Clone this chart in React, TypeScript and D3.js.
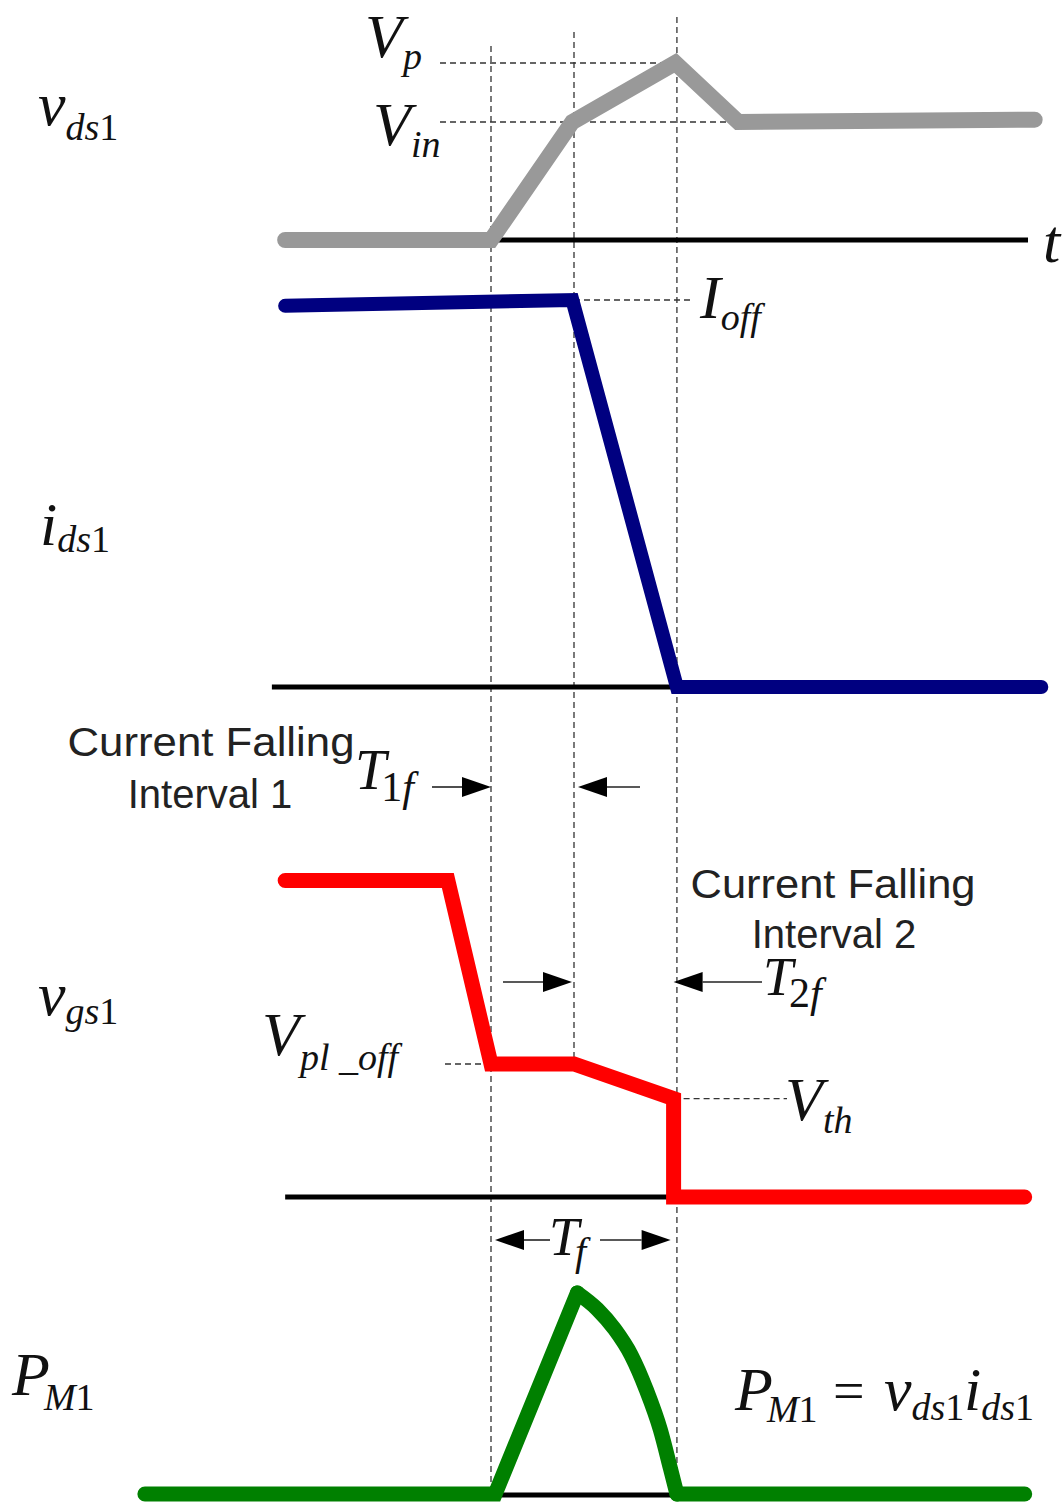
import React from 'react';
import * as d3 from 'd3';

// Time is measured in units of the first current-falling interval (T1f = 1).
// Key switching instants: start of T1f, end of T1f, end of T2f.
const instants = [0, 1.0, 2.24];

// Drain-source voltage v_ds1 (normalised to V_in)
const vdsTime = [-2.48, 0, 0.98, 2.22, 2.98, 6.55];
const vdsValue = [0, 0, 1.0, 1.5, 1.0, 1.02];

// Drain current i_ds1 (normalised to I_off)
const idsTime = [-2.48, 0.98, 2.24, 6.63];
const idsValue = [0.985, 1.0, 0, 0];

// Gate-source voltage v_gs1 (normalised to V_pl_off)
const vgsTime = [-2.48, -0.52, 0, 1.0, 2.2, 2.2, 6.43];
const vgsValue = [2.38, 2.38, 1.0, 1.0, 0.74, 0, 0];

// Switching loss P_M1 = v_ds1 * i_ds1 (normalised to its peak)
const pRiseTime = [-4.17, 0.05, 1.04];
const pRiseValue = [0, 0, 1.0];
const pFallTime = [1.04, 1.28, 1.49, 1.69, 1.87, 2.04, 2.16, 2.24];
const pFallValue = [1.0, 0.92, 0.82, 0.69, 0.52, 0.32, 0.13, 0];
const pTailTime = [2.24, 6.43];
const pTailValue = [0, 0];

const SERIF = '"Liberation Serif", "Times New Roman", serif';
const SANS = '"Liberation Sans", Arial, sans-serif';

const x = d3.scaleLinear().domain([0, 1]).range([491, 574]);
const yVds = d3.scaleLinear().domain([0, 1]).range([240, 122]);
const yIds = d3.scaleLinear().domain([0, 1]).range([687, 300]);
const yVgs = d3.scaleLinear().domain([0, 1]).range([1197, 1064]);
const yP = d3.scaleLinear().domain([0, 1]).range([1494, 1293]);

type Pt = [number, number];
const zip = (t: number[], v: number[]): Pt[] => t.map((ti, i) => [ti, v[i]]);

const linePath = (pts: Pt[], y: d3.ScaleLinear<number, number>, curve: d3.CurveFactory = d3.curveLinear) =>
  d3
    .line<Pt>()
    .x((d) => x(d[0]))
    .y((d) => y(d[1]))
    .curve(curve)(pts) || '';

type Piece = [string, boolean];

function Sym({
  px,
  py,
  base,
  sub,
  size = 62,
  subSize = 38,
  subDx = 0,
  subDy = 13,
}: {
  px: number;
  py: number;
  base: string;
  sub: Piece[];
  size?: number;
  subSize?: number;
  subDx?: number;
  subDy?: number;
}) {
  return (
    <text x={px} y={py} fontFamily={SERIF} fill="#111">
      <tspan fontSize={size} fontStyle="italic">
        {base}
      </tspan>
      {sub.map(([s, it], i) => (
        <tspan
          key={i}
          fontSize={subSize}
          fontStyle={it ? 'italic' : 'normal'}
          dx={i === 0 ? subDx : 0}
          dy={i === 0 ? subDy : 0}
        >
          {s}
        </tspan>
      ))}
    </text>
  );
}

function Arrow({ tip, from, y }: { tip: number; from: number; y: number }) {
  const dir = tip > from ? 1 : -1;
  const len = 29;
  const half = 10;
  return (
    <g>
      <line x1={from} y1={y} x2={tip - dir * len} y2={y} stroke="#222" strokeWidth={1.6} />
      <polygon
        points={`${tip},${y} ${tip - dir * len},${y - half} ${tip - dir * len},${y + half}`}
        fill="#000"
      />
    </g>
  );
}

const Dash = ({ x1, y1, x2, y2 }: { x1: number; y1: number; x2: number; y2: number }) => (
  <line x1={x1} y1={y1} x2={x2} y2={y2} stroke="#333" strokeWidth={1.3} strokeDasharray="6 4" />
);

export default function App() {
  const dashTops = [46, 32, 17];
  const dashBottoms = [1495, 1063, 1495];
  const tEnd = instants[2];

  return (
    <svg
      width={1063}
      height={1508}
      viewBox="0 0 1063 1508"
      style={{ position: 'absolute', left: 0, top: 0, background: '#fff' }}
    >
      <rect width={1063} height={1508} fill="#fff" />

      {/* vertical guides at the switching instants */}
      {instants.map((t, i) => (
        <Dash key={i} x1={x(t)} y1={dashTops[i]} x2={x(t)} y2={dashBottoms[i]} />
      ))}

      {/* horizontal level guides */}
      <Dash x1={440} y1={yVds(1.5)} x2={x(2.22)} y2={yVds(1.5)} />
      <Dash x1={440} y1={yVds(1)} x2={x(2.98)} y2={yVds(1)} />
      <Dash x1={x(1)} y1={yIds(1)} x2={690} y2={yIds(1)} />
      <Dash x1={445} y1={yVgs(1)} x2={x(0)} y2={yVgs(1)} />
      <Dash x1={x(2.2)} y1={yVgs(0.74)} x2={787} y2={yVgs(0.74)} />

      {/* zero baselines */}
      <line x1={x(0)} y1={yVds(0)} x2={x(6.47)} y2={yVds(0)} stroke="#000" strokeWidth={5} />
      <line x1={x(-2.64)} y1={yIds(0)} x2={x(tEnd)} y2={yIds(0)} stroke="#000" strokeWidth={5} />
      <line x1={x(-2.48)} y1={yVgs(0)} x2={x(2.2)} y2={yVgs(0)} stroke="#000" strokeWidth={5} />
      <line x1={x(0.05)} y1={yP(0) + 1} x2={x(tEnd)} y2={yP(0) + 1} stroke="#000" strokeWidth={5} />

      {/* waveforms */}
      <path
        d={linePath(zip(vdsTime, vdsValue), yVds)}
        fill="none"
        stroke="#999999"
        strokeWidth={16}
        strokeLinecap="round"
        strokeLinejoin="miter"
      />
      <path
        d={linePath(zip(idsTime, idsValue), yIds)}
        fill="none"
        stroke="#000080"
        strokeWidth={14}
        strokeLinecap="round"
        strokeLinejoin="miter"
      />
      <path
        d={linePath(zip(vgsTime, vgsValue), yVgs)}
        fill="none"
        stroke="#ff0000"
        strokeWidth={15}
        strokeLinecap="round"
        strokeLinejoin="miter"
      />
      <g fill="none" stroke="#008000" strokeWidth={15} strokeLinecap="round" strokeLinejoin="miter">
        <path d={linePath(zip(pRiseTime, pRiseValue), yP)} />
        <path d={linePath(zip(pFallTime, pFallValue), yP, d3.curveMonotoneX)} />
        <path d={linePath(zip(pTailTime, pTailValue), yP)} />
      </g>

      {/* signal names */}
      <Sym px={38} py={125} base="v" sub={[['ds', true], ['1', false]]} subDy={15} />
      <Sym px={40} py={545} base="i" sub={[['ds', true], ['1', false]]} subDy={7} />
      <Sym px={38} py={1015} base="v" sub={[['gs', true], ['1', false]]} subDy={9} />
      <Sym px={12} py={1395} base="P" sub={[['M', true], ['1', false]]} subDx={-6} subDy={15} />

      {/* level labels */}
      <Sym px={365} py={57} base="V" sub={[['p', true]]} subDy={12} />
      <Sym px={373} py={145} base="V" sub={[['in', true]]} subDy={12} />
      <Sym px={700} py={318} base="I" sub={[['off', true]]} subDy={12} />
      <text x={1043} y={262} fontFamily={SERIF} fontStyle="italic" fontSize={62} fill="#111">
        t
      </text>
      <Sym px={262} py={1055} base="V" sub={[['pl _off', true]]} subDy={15} />
      <Sym px={785} py={1120} base="V" sub={[['th', true]]} subDy={13} />

      {/* interval annotations */}
      <text fontFamily={SANS} fontSize={40} fill="#222" textAnchor="middle">
        <tspan x={211} y={756} textLength={287} lengthAdjust="spacingAndGlyphs">
          Current Falling
        </tspan>
        <tspan x={210} y={808}>
          Interval 1
        </tspan>
      </text>
      <text fontFamily={SANS} fontSize={40} fill="#222" textAnchor="middle">
        <tspan x={833} y={898} textLength={285} lengthAdjust="spacingAndGlyphs">
          Current Falling
        </tspan>
        <tspan x={834} y={948}>
          Interval 2
        </tspan>
      </text>

      <Sym px={355} py={789} base="T" size={56} sub={[['1', false], ['f', true]]} subSize={42} subDx={-5} subDy={12} />
      <Arrow tip={x(0)} from={432} y={787} />
      <Arrow tip={x(1) + 4} from={640} y={787} />

      <Arrow tip={x(1) - 2} from={503} y={982} />
      <Arrow tip={x(2.2)} from={762} y={982} />
      <Sym px={763} py={995} base="T" size={54} sub={[['2', false], ['f', true]]} subSize={42} subDx={-4} subDy={12} />

      {/* fall time span */}
      <Arrow tip={x(0) + 4} from={550} y={1240} />
      <Arrow tip={x(2.2) - 3} from={600} y={1240} />
      <Sym px={549} py={1255} base="T" size={54} sub={[['f', true]]} subSize={40} subDx={-4} subDy={10} />

      {/* power relation */}
      <Sym px={735} py={1410} base="P" sub={[['M', true], ['1', false]]} subDx={-6} subDy={12} />
      <text x={833} y={1410} fontFamily={SERIF} fontSize={56} fill="#111">
        =
      </text>
      <Sym px={884} py={1410} base="v" sub={[['ds', true], ['1', false]]} subDy={10} />
      <Sym px={964} py={1410} base="i" sub={[['ds', true], ['1', false]]} subDy={10} />
    </svg>
  );
}
